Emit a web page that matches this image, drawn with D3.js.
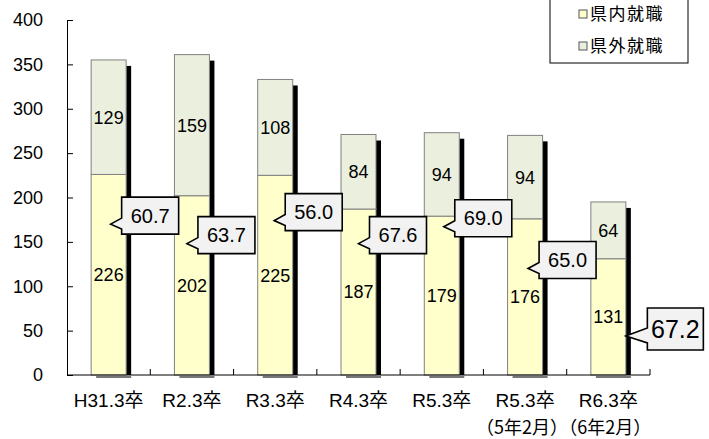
<!DOCTYPE html>
<html><head><meta charset="utf-8">
<script src="https://cdn.jsdelivr.net/npm/d3@7"></script>
<style>
html,body{margin:0;padding:0;background:#fff;}
svg{display:block;}
</style></head>
<body>
<svg id="chart" width="709" height="439"></svg>
<script>
// ---- data ----
const categories = ["H31.3卒", "R2.3卒", "R3.3卒", "R4.3卒", "R5.3卒", "R5.3卒", "R6.3卒"];
const subLabels = ["", "", "", "", "", "（5年2月）", "（6年2月）"];
const inPref = [226, 202, 225, 187, 179, 176, 131];   // 県内就職
const outPref = [129, 159, 108, 84, 94, 94, 64];      // 県外就職
const ratios = ["60.7", "63.7", "56.0", "67.6", "69.0", "65.0", "67.2"];
const seriesNames = ["県内就職", "県外就職"];
const yTicks = [0, 50, 100, 150, 200, 250, 300, 350, 400];

// ---- layout (callout anchors, in data units / px offsets) ----
const calloutTipValue = [170, 148, 174, 148, 167, 120, 44];
const calloutTipDx = [2, -5, -1, 0, 2, 3, 17.5];

const colIn = "#ffffcc", colOut = "#ebf0de";
const svg = d3.select("#chart");
const L = 67, R = 650, T = 20, B = 375;

const x = d3.scaleBand().domain(d3.range(categories.length)).range([L, R]).paddingInner(0).paddingOuter(0);
const y = d3.scaleLinear().domain([0, 400]).range([B, T]);
const bw = 35;
const bx = i => x(i) + x.bandwidth() / 2 - bw / 2;

// shadows
const g = svg.append("g");
categories.forEach((c, i) => {
  const top = y(inPref[i] + outPref[i]);
  g.append("rect").attr("x", bx(i) + bw).attr("y", top + 6).attr("width", 5).attr("height", B - top - 6).attr("fill", "#000");
  g.append("rect").attr("x", bx(i) + 5).attr("y", B + 1).attr("width", bw).attr("height", 2).attr("fill", "#777");
});

// bars
categories.forEach((c, i) => {
  g.append("rect").attr("x", bx(i)).attr("y", y(inPref[i])).attr("width", bw).attr("height", y(0) - y(inPref[i]))
    .attr("fill", colIn).attr("stroke", "#808080").attr("stroke-width", 1);
  g.append("rect").attr("x", bx(i)).attr("y", y(inPref[i] + outPref[i])).attr("width", bw).attr("height", y(inPref[i]) - y(inPref[i] + outPref[i]))
    .attr("fill", colOut).attr("stroke", "#808080").attr("stroke-width", 1);
  const cx = x(i) + x.bandwidth() / 2;
  g.append("text").attr("x", cx).attr("y", (y(inPref[i]) + y(0)) / 2).attr("dy", "0.36em")
    .attr("text-anchor", "middle").attr("font-family", "Liberation Sans, Arial, sans-serif").attr("font-size", 18).text(inPref[i]);
  g.append("text").attr("x", cx).attr("y", (y(inPref[i]) + y(inPref[i] + outPref[i])) / 2).attr("dy", "0.36em")
    .attr("text-anchor", "middle").attr("font-family", "Liberation Sans, Arial, sans-serif").attr("font-size", 18).text(outPref[i]);
});

// axes
const ya = svg.append("g").attr("transform", `translate(${L},0)`)
  .call(d3.axisLeft(y).tickValues(yTicks).tickSizeInner(-6).tickSizeOuter(0).tickPadding(24));
ya.select(".domain").attr("stroke", "#000");
ya.selectAll("text").attr("font-family", "Liberation Sans, Arial, sans-serif").attr("font-size", 18).attr("fill", "#000");
ya.selectAll("line").attr("stroke", "#000");

const xa = svg.append("g");
xa.append("line").attr("x1", L).attr("x2", R).attr("y1", B).attr("y2", B).attr("stroke", "#000");
d3.range(1, categories.length + 1).forEach(i => {
  const xx = x(i - 1) + x.bandwidth();
  xa.append("line").attr("x1", xx).attr("x2", xx).attr("y1", B).attr("y2", B - 6).attr("stroke", "#000");
});
categories.forEach((c, i) => {
  const cx = x(i) + x.bandwidth() / 2;
  xa.append("text").attr("x", cx).attr("y", 407).attr("text-anchor", "middle")
    .attr("font-family", "Liberation Sans, Noto Sans CJK JP, sans-serif").attr("font-size", 19).text(c);
  if (subLabels[i]) xa.append("text").attr("x", cx - 3).attr("y", 434).attr("text-anchor", "middle")
    .attr("font-family", "Noto Sans CJK JP, sans-serif").attr("font-size", 18).text(subLabels[i]);
});

// callouts
ratios.forEach((r, i) => {
  const big = i === ratios.length - 1;
  const tx = x(i) + x.bandwidth() / 2 + calloutTipDx[i];
  const ty = y(calloutTipValue[i]);
  const w = big ? 56 : 57, h = big ? 42 : 37;
  const x0 = tx + (big ? 21.5 : 11), y1 = ty + (big ? 14 : 10), y0 = y1 - h, x1 = x0 + w;
  const wa = big ? y1 - 22 : y1 - 16, wb = big ? y1 - 7 : y1 - 5;
  const p = `M${x0},${y0}H${x1}V${y1}H${x0}V${wb}L${tx},${ty}L${x0},${wa}Z`;
  svg.append("path").attr("d", p).attr("fill", "#f2f2f2").attr("stroke", "#000").attr("stroke-width", 1.6);
  svg.append("text").attr("x", (x0 + x1) / 2).attr("y", (y0 + y1) / 2).attr("dy", "0.36em").attr("text-anchor", "middle")
    .attr("font-family", "Liberation Sans, Arial, sans-serif").attr("font-size", big ? 25 : 20).text(r);
});

// legend
const lg = svg.append("g");
lg.append("rect").attr("x", 550).attr("y", -2).attr("width", 138).attr("height", 65).attr("fill", "#fff").attr("stroke", "#000").attr("stroke-width", 1);
[colIn, colOut].forEach((c, i) => {
  const cy = i === 0 ? 14 : 46;
  lg.append("rect").attr("x", 579).attr("y", cy - 4).attr("width", 8).attr("height", 8).attr("fill", c).attr("stroke", "#555").attr("stroke-width", 1);
  lg.append("text").attr("x", 590).attr("y", cy).attr("dy", "0.36em").attr("font-family", "Noto Sans CJK JP, sans-serif")
    .attr("font-size", 17).attr("letter-spacing", "1.5px").text(seriesNames[i]);
});
</script>
</body></html>
